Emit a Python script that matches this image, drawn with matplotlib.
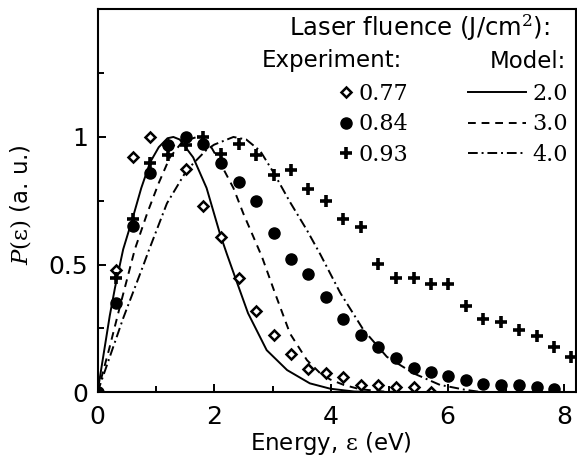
import matplotlib
matplotlib.use('Agg')
from matplotlib import pyplot as plt
from matplotlib.ticker import MultipleLocator

plt.rcParams['font.family'] = 'DejaVu Sans'
plt.rcParams['mathtext.fontset'] = 'custom'
plt.rcParams['mathtext.rm'] = 'DejaVu Serif'
plt.rcParams['mathtext.it'] = 'DejaVu Serif:italic'

# experiment (energy grid shared by the three fluences)
energy = [0, 0.31, 0.61, 0.90, 1.21, 1.51, 1.81, 2.12, 2.42, 2.72, 3.02, 3.32, 3.61, 3.92,
          4.21, 4.51, 4.81, 5.12, 5.43, 5.72, 6.01, 6.31, 6.61, 6.91, 7.23, 7.53, 7.83, 8.11]
p_077 = [0, 0.478, 0.92, 1.0, 0.97, 0.876, 0.729, 0.609, 0.448, 0.319, 0.224, 0.150, 0.092, 0.074,
         0.061, 0.027, 0.027, 0.022, 0.022, 0.003]
p_084 = [0, 0.351, 0.651, 0.859, 0.967, 1.0, 0.974, 0.898, 0.824, 0.750, 0.625, 0.524, 0.462, 0.372,
         0.289, 0.224, 0.178, 0.133, 0.094, 0.081, 0.064, 0.048, 0.032, 0.029, 0.029, 0.022, 0.012]
p_093 = [0, 0.448, 0.677, 0.898, 0.928, 0.967, 1.0, 0.935, 0.974, 0.928, 0.850, 0.870, 0.798, 0.748,
         0.677, 0.648, 0.501, 0.448, 0.448, 0.426, 0.426, 0.339, 0.289, 0.276, 0.244, 0.220, 0.176, 0.139]

# model curves
m20_x = [0, 0.21, 0.30, 0.44, 0.60, 0.75, 0.90, 1.05, 1.20, 1.30, 1.41, 1.64, 1.87, 2.10, 2.22,
         2.36, 2.58, 2.90, 3.25, 3.64, 3.99, 4.4, 4.9]
m20_y = [0, 0.30, 0.41, 0.56, 0.68, 0.80, 0.90, 0.96, 0.995, 1.0, 0.99, 0.92, 0.80, 0.62, 0.54,
         0.45, 0.31, 0.165, 0.087, 0.035, 0.014, 0.003, 0]
m30_x = [0, 0.2, 0.4, 0.64, 0.85, 1.05, 1.24, 1.45, 1.70, 1.90, 2.10, 2.33, 2.50, 2.67, 2.82,
         3.04, 3.30, 3.59, 3.82, 3.99, 4.22, 4.50, 4.9, 5.3]
m30_y = [0, 0.17, 0.35, 0.56, 0.70, 0.82, 0.92, 0.98, 1.0, 0.98, 0.90, 0.80, 0.70, 0.61, 0.53,
         0.39, 0.23, 0.126, 0.074, 0.05, 0.029, 0.012, 0.003, 0]
m40_x = [0, 0.44, 0.79, 0.87, 1.19, 1.53, 1.87, 2.0, 2.33, 2.55, 2.79, 3.02, 3.30, 3.59, 3.82,
         4.16, 4.56, 4.96, 5.42, 5.87, 6.3, 6.6]
m40_y = [0, 0.29, 0.50, 0.55, 0.74, 0.87, 0.95, 0.97, 1.0, 0.99, 0.945, 0.86, 0.745, 0.635, 0.54,
         0.39, 0.244, 0.139, 0.074, 0.029, 0.01, 0]

fig = plt.figure(figsize=(5.77, 4.57), dpi=100)
ax = fig.add_axes([0.169, 0.1416, 0.829, 0.838])

lw = 1.4
l20, = ax.plot(m20_x, m20_y, color='k', lw=lw)
l30, = ax.plot(m30_x, m30_y, color='k', lw=lw, dashes=[4, 3])
l40, = ax.plot(m40_x, m40_y, color='k', lw=lw, dashes=[5, 2, 1, 2])

h077, = ax.plot(energy[:len(p_077)], p_077, 'D', ms=5.5, mfc='w', mec='k', mew=1.8, ls='none')
h084, = ax.plot(energy[:len(p_084)], p_084, 'o', ms=8, color='k', ls='none')
h093, = ax.plot(energy[:len(p_093)], p_093, '+', ms=8, color='k', mew=2.6, ls='none')

ax.set_xlim(0, 8.2)
ax.set_ylim(0, 1.5)
ax.xaxis.set_major_locator(MultipleLocator(2))
ax.xaxis.set_minor_locator(MultipleLocator(1))
ax.set_yticks([0, 0.5, 1])
ax.set_yticklabels(['0', '0.5', '1'])
ax.set_yticks([0.25, 0.75, 1.25], minor=True)
ax.tick_params(which='both', direction='in', labelsize=18, width=1.4)
ax.tick_params(which='major', length=6)
ax.tick_params(which='minor', length=4.5)
ax.tick_params(axis='x', which='major', pad=9.5)
ax.tick_params(axis='y', which='major', pad=6.5)
for s in ax.spines.values():
    s.set_linewidth(1.5)

ax.set_xlabel(r'Energy, $\mathrm{ε}$ (eV)', fontsize=16.5)
ax.xaxis.set_label_coords(0.488, -0.099)
ax.set_ylabel(r'$P(\mathrm{ε})$ (a. u.)', fontsize=16.5)
ax.yaxis.set_label_coords(-0.135, 0.489)

fig.text(419 / 577, 1 - 28 / 457, r'Laser fluence (J/cm$^2$):', fontsize=17.5,
         ha='center', va='center')
fig.text(262 / 577, 1 - 61 / 457, 'Experiment:', fontsize=16.5, ha='left', va='center')
fig.text(566 / 577, 1 - 61 / 457, 'Model:', fontsize=16.5, ha='right', va='center')

leg_font = {'family': 'DejaVu Serif', 'size': 16}
leg1 = ax.legend([h077, h084, h093], ['0.77', '0.84', '0.93'], loc='upper left',
                 bbox_to_anchor=(337 / 577, 1 - 83 / 457), bbox_transform=fig.transFigure,
                 frameon=False, handlelength=0.8, handletextpad=0.15, labelspacing=0.38,
                 borderpad=0, borderaxespad=0, prop=leg_font)
ax.add_artist(leg1)
ax.legend([l20, l30, l40], ['2.0', '3.0', '4.0'], loc='upper left',
          bbox_to_anchor=(468 / 577, 1 - 83 / 457), bbox_transform=fig.transFigure,
          frameon=False, handlelength=2.6, handletextpad=0.3, labelspacing=0.38,
          borderpad=0, borderaxespad=0, prop=leg_font)

fig.savefig('out.png', dpi=100)
